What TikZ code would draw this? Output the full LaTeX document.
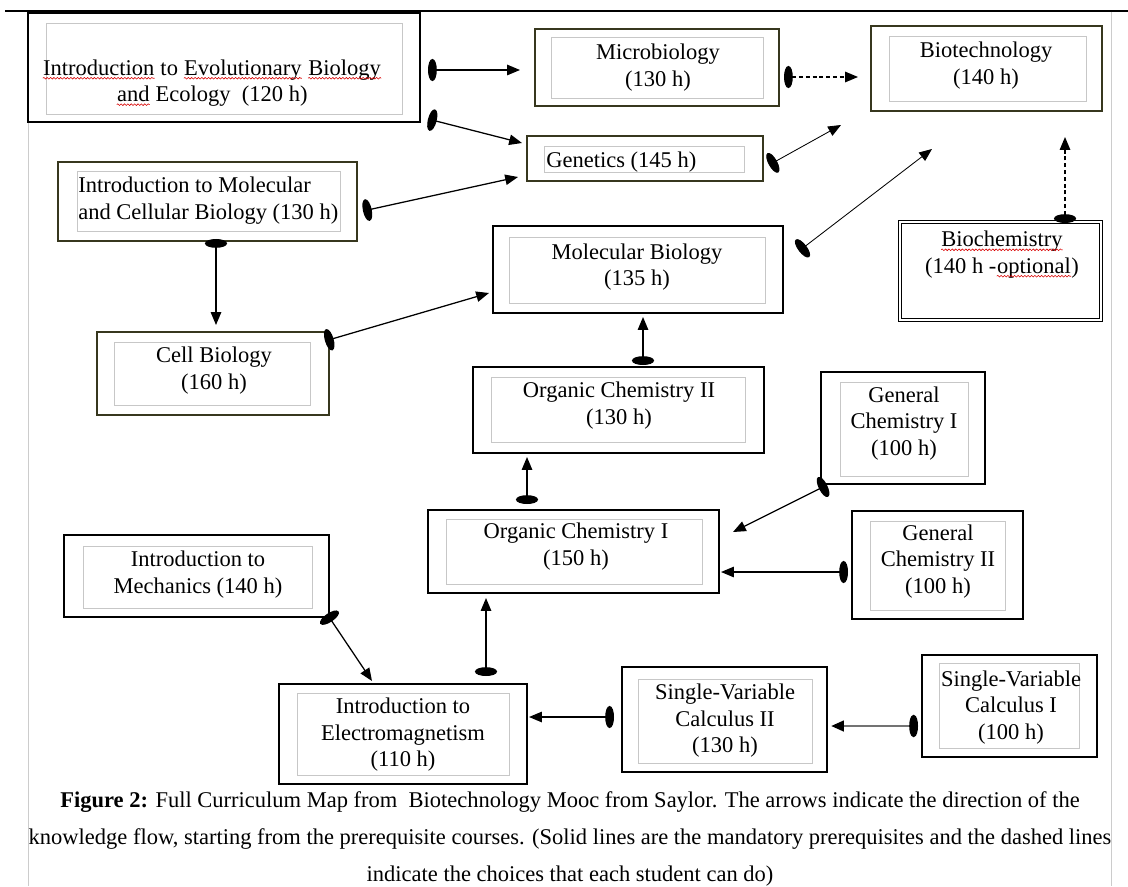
\documentclass[tikz,border=0pt]{standalone}
\usepackage{fontspec}
\setmainfont{Liberation Serif}
\usetikzlibrary{arrows.meta,fit,decorations.pathmorphing}
\definecolor{frameolive}{RGB}{55,55,30}
\newcommand\redwave[1]{\tikz[baseline=(w.base)]{\node[inner sep=0pt] (w) {#1};
	\draw[red!85!black, line width=0.4pt, decorate, decoration={snake, amplitude=0.6pt, segment length=2.4pt}]
		([yshift=-2.2pt]w.base west) -- ([yshift=-2.2pt]w.base east);}}

\begin{document}
\begin{tikzpicture}[
	x=0.025cm, y=-0.025cm,
	font=\fontsize{16}{18.8}\selectfont,
	outbox/.style={
		draw,
		line width=1.1pt,
		inner sep=0pt
	},
	olivebox/.style={
		outbox,
		draw=frameolive,
		line width=0.9pt
	},
	inbox/.style={
		draw=black!22,
		line width=0.6pt,
		inner sep=0pt
	},
	coursetext/.style={
		align=center,
		inner sep=0pt
	},
	Flow/.style={% mandatory prerequisite
		{Ellipse[length=2.2mm,width=5.5mm]}-{Triangle[length=3.2mm,width=2.6mm]},
		line width=0.9pt,
	},
	Choice/.style={% optional choice
		Flow,
		dash pattern=on 1mm off 0.7mm,
	},
]
	\fill[white] (0,0) rectangle (1128,886);
	\useasboundingbox (0,0) rectangle (1128,886);

	% page frame
	\draw[line width=2pt] (5,11) -- (1128,11);
	\draw[black!20, line width=0.7pt] (28,122) -- (28,886);
	\draw[black!20, line width=0.7pt] (1111,12) -- (1111,886);

	% courses
	\node [outbox, fit={(28,13) (420,122)}] (evol) {};
	\node [inbox, fit={(46,23) (402,114)}] (evolIn) {};
	\node [coursetext] (evolText) at (212,83) {\redwave{Introduction} to \redwave{Evolutionary} \redwave{Biology}\\\redwave{and} Ecology~~(120 h)};

	\node [olivebox, fit={(535,29) (779,106)}] (micro) {};
	\node [inbox, fit={(551,37) (763,98)}] (microIn) {};
	\node [coursetext] (microText) at (658,67.5) {Microbiology\\(130 h)};

	\node [olivebox, fit={(871,26) (1102,111)}] (biotech) {};
	\node [inbox, fit={(889,36) (1086,101)}] (biotechIn) {};
	\node [coursetext] (biotechText) at (986,65.5) {Biotechnology\\(140 h)};

	\node [olivebox, fit={(527,136) (763,181)}] (genetics) {};
	\node [inbox, fit={(544,146) (744,172)}] (geneticsIn) {};
	\node [coursetext, anchor=west] (geneticsText) at (546,162) {Genetics (145 h)};

	\node [olivebox, fit={(58,162) (357,241)}] (imcb) {};
	\node [inbox, fit={(77,171) (340,231)}] (imcbIn) {};
	\node [coursetext, align=left, anchor=west] (imcbText) at (78,200.5) {Introduction to Molecular\\and Cellular Biology (130 h)};

	\node [outbox, fit={(493,226) (783,313)}] (molbio) {};
	\node [inbox, fit={(509,237) (765,303)}] (molbioIn) {};
	\node [coursetext] (molbioText) at (637,267) {Molecular Biology\\(135 h)};

	\node [draw, double, line width=0.8pt, double distance=1.3pt, inner sep=0pt, fit={(900,222) (1101,320)}] (biochem) {};
	\node [coursetext] (biochemText) at (1002,254.5) {\redwave{Biochemistry}\\(140 h -\redwave{optional})};

	\node [olivebox, fit={(97,332) (329,415)}] (cell) {};
	\node [inbox, fit={(114,342) (310,405)}] (cellIn) {};
	\node [coursetext] (cellText) at (214,370.5) {Cell Biology\\(160 h)};

	\node [outbox, fit={(473,367) (764,453)}] (ocII) {};
	\node [inbox, fit={(491,377) (745,442)}] (ocIIIn) {};
	\node [coursetext] (ocIIText) at (619,405.5) {Organic Chemistry II\\(130 h)};

	\node [outbox, fit={(821,372) (985,484)}] (gcI) {};
	\node [inbox, fit={(840,382) (968,476)}] (gcIIn) {};
	\node [coursetext] (gcIText) at (904,423.5) {General\\Chemistry I\\(100 h)};

	\node [outbox, fit={(428,510) (719,593)}] (ocI) {};
	\node [inbox, fit={(446,519) (702,584)}] (ocIIn) {};
	\node [coursetext] (ocIText) at (576,546.5) {Organic Chemistry I\\(150 h)};

	\node [outbox, fit={(852,511) (1023,619)}] (gcII) {};
	\node [inbox, fit={(870,521) (1005,610)}] (gcIIIn) {};
	\node [coursetext] (gcIIText) at (938,561.5) {General\\Chemistry II\\(100 h)};

	\node [outbox, fit={(64,535) (329,617)}] (mech) {};
	\node [inbox, fit={(83,546) (312,608)}] (mechIn) {};
	\node [coursetext] (mechText) at (198,574.5) {Introduction to\\Mechanics (140 h)};

	\node [outbox, fit={(279,684) (527,784)}] (em) {};
	\node [inbox, fit={(297,693) (509,775)}] (emIn) {};
	\node [coursetext] (emText) at (403,735) {Introduction to\\Electromagnetism\\(110 h)};

	\node [outbox, fit={(622,667) (827,772)}] (svcII) {};
	\node [inbox, fit={(638,679) (812,763)}] (svcIIIn) {};
	\node [coursetext] (svcIIText) at (725,721) {Single-Variable\\Calculus II\\(130 h)};

	\node [outbox, fit={(922,655) (1097,757)}] (svcI) {};
	\node [inbox, fit={(939,663) (1079,748)}] (svcIIn) {};
	\node [coursetext] (svcIText) at (1011,707.5) {Single-Variable\\Calculus I\\(100 h)};

	% arrow ends
	\coordinate (evolTailA) at (428,70);	\coordinate (microHead) at (520,70);
	\coordinate (microTail) at (784,77);	\coordinate (biotechHeadA) at (858,77);
	\coordinate (evolTailB) at (428,119);	\coordinate (geneticsHeadA) at (522,143);
	\coordinate (imcbTailA) at (363,211);	\coordinate (geneticsHeadB) at (518,177);
	\coordinate (imcbTailB) at (216,239);	\coordinate (cellHead) at (216,325);
	\coordinate (geneticsTail) at (769,165);	\coordinate (biotechHeadB) at (841,125);
	\coordinate (molbioTail) at (799,251);	\coordinate (biotechHeadC) at (932,149);
	\coordinate (biochemTail) at (1065,223);	\coordinate (biotechHeadD) at (1065,137);
	\coordinate (cellTail) at (325,341);	\coordinate (molbioHeadA) at (489,293);
	\coordinate (ocIITail) at (643,365);	\coordinate (molbioHeadB) at (643,317);
	\coordinate (ocITail) at (527,504);	\coordinate (ocIIHead) at (527,457);
	\coordinate (gcITail) at (827,485);	\coordinate (ocIHeadA) at (733,532);
	\coordinate (gcIITail) at (848,572);	\coordinate (ocIHeadB) at (721,572);
	\coordinate (mechTail) at (327,614);	\coordinate (emHeadA) at (372,681);
	\coordinate (emTail) at (486,676);	\coordinate (ocIHeadC) at (486,598);
	\coordinate (svcIITail) at (614,717);	\coordinate (emHeadB) at (529,717);
	\coordinate (svcITail) at (918,726);	\coordinate (svcIIHead) at (831,726);

	\draw [Flow] (evolTailA) -- (microHead);
	\draw [Choice] (microTail) -- (biotechHeadA);
	\draw [Flow] (evolTailB) -- (geneticsHeadA);
	\draw [Flow] (imcbTailA) -- (geneticsHeadB);
	\draw [Flow] (imcbTailB) -- (cellHead);
	\draw [Flow, line width=0.6pt] (geneticsTail) -- (biotechHeadB);
	\draw [Flow, line width=0.6pt] (molbioTail) -- (biotechHeadC);
	\draw [Choice] (biochemTail) -- (biotechHeadD);
	\draw [Flow] (cellTail) -- (molbioHeadA);
	\draw [Flow] (ocIITail) -- (molbioHeadB);
	\draw [Flow] (ocITail) -- (ocIIHead);
	\draw [Flow] (gcITail) -- (ocIHeadA);
	\draw [Flow] (gcIITail) -- (ocIHeadB);
	\draw [Flow] (mechTail) -- (emHeadA);
	\draw [Flow] (emTail) -- (ocIHeadC);
	\draw [Flow] (svcIITail) -- (emHeadB);
	\draw [{Ellipse[length=2.2mm,width=5.5mm,color=black]}-{Triangle[length=3.2mm,width=2.6mm,color=black]}, line width=2pt, black!55] (svcITail) -- (svcIIHead);

	% caption
	\node [align=center, inner sep=0pt, font=\fontsize{16}{26.3}\selectfont] (caption) at (570,838.5) {\textbf{Figure 2:} Full Curriculum Map from~ Biotechnology Mooc from Saylor. The arrows indicate the direction of the\\knowledge flow, starting from the prerequisite courses. (Solid lines are the mandatory prerequisites and the dashed lines\\indicate the choices that each student can do)};
\end{tikzpicture}
\end{document}
